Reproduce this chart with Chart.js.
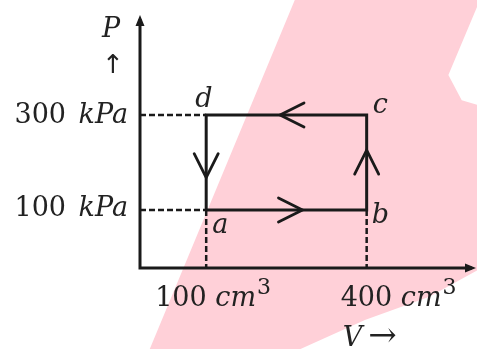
<!DOCTYPE html>
<html>
<head>
<meta charset="utf-8">
<script src="https://cdn.jsdelivr.net/npm/chart.js@4.4.1/dist/chart.umd.min.js"></script>
<style>
  html, body { margin: 0; padding: 0; background: #fff; }
  #wrap { width: 477px; height: 349px; position: relative; }
</style>
</head>
<body>
<div id="wrap"><canvas id="pv"></canvas></div>
<script>
// cycle a -> b -> c -> d -> a
const stateNames = ['a', 'b', 'c', 'd'];
const volumes = [100, 400, 400, 100];     // cm^3
const pressures = [100, 100, 300, 300];   // kPa
const volumeTicks = [100, 400];
const pressureTicks = [100, 300];

const INK = '#1a1a1a';
const FONT = '"DejaVu Serif", serif';

// closed loop
const loop = volumes.concat(volumes[0]).map((v, i) => ({ x: v, y: pressures.concat(pressures[0])[i] }));

const V_MIN = -23.75, V_MAX = 604.4, P_MIN = -22.1, P_MAX = 510.5;

// dashed guides to the axes
const guides = [
    [{ x: V_MIN, y: pressures[3] }, { x: volumes[3], y: pressures[3] }],
    [{ x: V_MIN, y: pressures[0] }, { x: volumes[0], y: pressures[0] }],
    [{ x: volumes[0], y: pressures[0] }, { x: volumes[0], y: P_MIN }],
    [{ x: volumes[1], y: pressures[1] }, { x: volumes[1], y: P_MIN }]
];

// where the direction chevron sits on each leg (fraction from start)
const legArrowAt = [0.6, 0.63, 0.54, 0.66];

function drawRuns(ctx, x, y, runs, size, align) {
    let w = 0;
    runs.forEach(r => {
        ctx.font = (r.italic ? 'italic ' : '') + Math.round(size * (r.scale || 1)) + 'px ' + FONT;
        r.w = ctx.measureText(r.t).width + (r.gap || 0);
        w += r.w;
    });
    let cx = align === 'right' ? x - w : align === 'center' ? x - w / 2 : x;
    runs.forEach(r => {
        ctx.font = (r.italic ? 'italic ' : '') + Math.round(size * (r.scale || 1)) + 'px ' + FONT;
        ctx.fillText(r.t, cx, y - (r.rise || 0) * size);
        cx += r.w;
    });
}

function chevron(ctx, x, y, dx, dy) {
    // open V arrowhead pointing along (dx, dy)
    const len = 24, half = 12;
    const nx = -dy, ny = dx;
    ctx.beginPath();
    ctx.moveTo(x - dx * len + nx * half, y - dy * len + ny * half);
    ctx.lineTo(x, y);
    ctx.lineTo(x - dx * len - nx * half, y - dy * len - ny * half);
    ctx.stroke();
}

const paperPlugin = {
    id: 'paper',
    beforeDraw(chart) {
        const { ctx, width: w, height: h } = chart;
        ctx.save();
        ctx.fillStyle = '#fff';
        ctx.fillRect(0, 0, w, h);
        // faint watermark behind the figure
        const shape = [[0.314, 1], [0.618, 0], [1, 0], [1, 0.02], [0.94, 0.215], [0.968, 0.287],
            [1, 0.3], [1, 0.775], [0.9, 0.85], [0.765, 0.917], [0.63, 1]];
        ctx.fillStyle = '#ffd0d8';
        ctx.beginPath();
        shape.forEach((p, i) => i ? ctx.lineTo(p[0] * w, p[1] * h) : ctx.moveTo(p[0] * w, p[1] * h));
        ctx.closePath();
        ctx.fill();
        ctx.restore();
    },
    afterDraw(chart) {
        const { ctx, chartArea: area } = chart;
        const xs = chart.scales.x, ys = chart.scales.y;
        ctx.save();
        ctx.strokeStyle = INK;
        ctx.fillStyle = INK;

        // axes with arrow tips
        ctx.lineWidth = 3;
        ctx.beginPath();
        ctx.moveTo(area.left, area.top + 4);
        ctx.lineTo(area.left, area.bottom);
        ctx.lineTo(area.right - 4, area.bottom);
        ctx.stroke();
        ctx.beginPath();
        ctx.moveTo(area.left, area.top);
        ctx.lineTo(area.left - 4.5, area.top + 11);
        ctx.lineTo(area.left + 4.5, area.top + 11);
        ctx.closePath();
        ctx.fill();
        ctx.beginPath();
        ctx.moveTo(area.right, area.bottom);
        ctx.lineTo(area.right - 11, area.bottom - 4.5);
        ctx.lineTo(area.right - 11, area.bottom + 4.5);
        ctx.closePath();
        ctx.fill();

        // direction chevrons on each leg
        ctx.lineWidth = 2.8;
        ctx.lineCap = 'round';
        for (let i = 0; i < 4; i++) {
            const j = (i + 1) % 4;
            const x0 = xs.getPixelForValue(volumes[i]), y0 = ys.getPixelForValue(pressures[i]);
            const x1 = xs.getPixelForValue(volumes[j]), y1 = ys.getPixelForValue(pressures[j]);
            const L = Math.hypot(x1 - x0, y1 - y0);
            const t = legArrowAt[i];
            chevron(ctx, x0 + (x1 - x0) * t, y0 + (y1 - y0) * t, (x1 - x0) / L, (y1 - y0) / L);
        }

        ctx.fillStyle = '#222';
        ctx.textBaseline = 'alphabetic';
        const S = 27;

        // pressure tick labels
        pressureTicks.forEach((p, i) => {
            const y = ys.getPixelForValue(p) + (i ? 8 : 6);
            drawRuns(ctx, area.left - 9, y, [{ t: String(p) + ' ', gap: 4 }, { t: 'kPa', italic: true, gap: 3 }], S, 'right');
        });
        // volume tick labels
        const vOffsets = [-51, -26];
        volumeTicks.forEach((v, i) => {
            const x = xs.getPixelForValue(v) + vOffsets[i];
            drawRuns(ctx, x, area.bottom + 38, [{ t: String(v) + ' ' }, { t: 'cm', italic: true, gap: 1 },
                { t: '3', scale: 0.8, rise: 0.45 }], S, 'left');
        });

        // state letters
        const nameOffsets = [[6, 23], [5, 13], [6, -2], [-11, -8]];
        stateNames.forEach((n, i) => {
            const x = xs.getPixelForValue(volumes[i]) + nameOffsets[i][0];
            const y = ys.getPixelForValue(pressures[i]) + nameOffsets[i][1];
            drawRuns(ctx, x, y, [{ t: n, italic: true }], S, 'left');
        });

        // axis titles
        drawRuns(ctx, area.left - 38, area.top + 22, [{ t: 'P', italic: true }], S, 'left');
        ctx.font = '26px "DejaVu Sans", sans-serif';
        ctx.textAlign = 'center';
        ctx.fillText('\u2191', area.left - 27, area.top + 58);
        ctx.textAlign = 'left';
        drawRuns(ctx, xs.getPixelForValue(volumeTicks[1]) - 24, area.bottom + 78,
            [{ t: 'V', italic: true, gap: 6 }, { t: '\u2192', scale: 1.25 }], S, 'left');
        ctx.restore();
    }
};

new Chart(document.getElementById('pv'), {
    type: 'scatter',
    data: {
        datasets: [
            {
                label: 'cycle',
                data: loop,
                showLine: true,
                borderColor: INK,
                borderWidth: 3,
                pointRadius: 0,
                fill: false
            }
        ].concat(guides.map((g, i) => ({
            label: 'guide' + i,
            data: g,
            showLine: true,
            borderColor: INK,
            borderWidth: 2.5,
            borderDash: [6, 3],
            pointRadius: 0
        })))
    },
    options: {
        responsive: true,
        maintainAspectRatio: false,
        animation: false,
        layout: { padding: { left: 140, top: 15, right: 1, bottom: 81 } },
        plugins: { legend: { display: false }, tooltip: { enabled: false } },
        scales: {
            x: { type: 'linear', display: false, min: V_MIN, max: V_MAX },
            y: { type: 'linear', display: false, min: P_MIN, max: P_MAX }
        }
    },
    plugins: [paperPlugin]
});
</script>
</body>
</html>
